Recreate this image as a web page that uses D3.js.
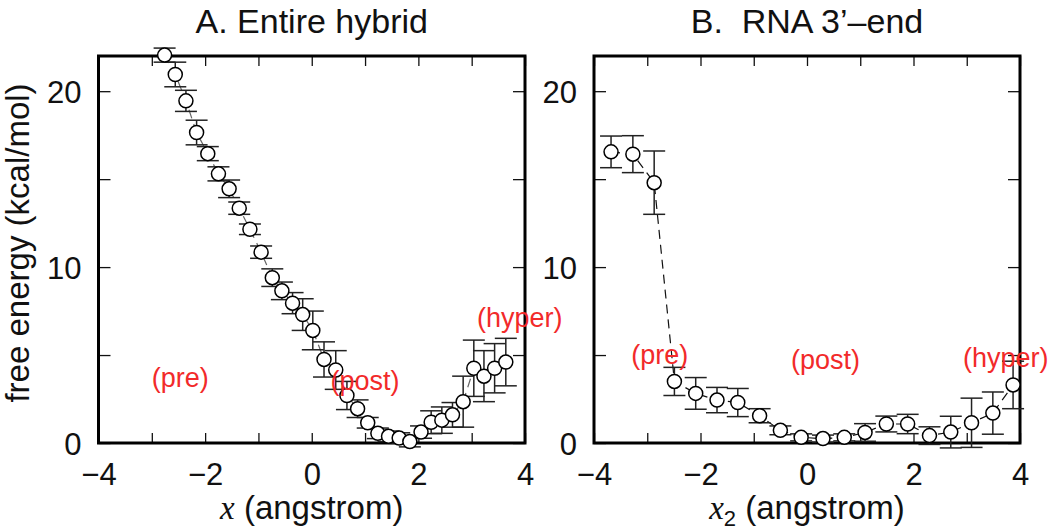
<!DOCTYPE html>
<html>
<head>
<meta charset="utf-8">
<script src="https://cdn.jsdelivr.net/npm/d3@7"></script>
<style>
  html, body { margin: 0; padding: 0; background: #fff; }
  svg { display: block; }
  text { font-family: "Liberation Sans", Arial, Helvetica, sans-serif; }
</style>
</head>
<body>
<svg id="chart" width="1050" height="530"></svg>
<script>
// ---- Data ----
const titleA = "A. Entire hybrid";
const titleB = "B.  RNA 3’–end";
const yLabel = "free energy (kcal/mol)";

// Panel A: entire hybrid
const xA = [-2.76, -2.56, -2.36, -2.16, -1.95, -1.75, -1.55, -1.36, -1.16, -0.95, -0.74,
            -0.56, -0.36, -0.17, 0.02, 0.23, 0.45, 0.66, 0.86, 1.05, 1.24, 1.44, 1.64,
            1.84, 2.05, 2.24, 2.44, 2.64, 2.84, 3.04, 3.23, 3.43, 3.64];
const yA = [22.05, 20.95, 19.45, 17.65, 16.45, 15.3, 14.45, 13.35, 12.15, 10.85, 9.4,
            8.65, 7.95, 7.3, 6.4, 4.75, 4.15, 2.7, 1.95, 1.15, 0.55, 0.38, 0.28,
            0.08, 0.62, 1.18, 1.3, 1.6, 2.35, 4.25, 3.8, 4.25, 4.6];
const eA = [0.4, 0.7, 0.6, 0.7, 0.4, 0.4, 0.5, 0.35, 0.3, 0.35, 0.5,
            0.5, 0.6, 0.9, 1.1, 1.0, 1.1, 0.8, 0.5, 0.3, 0.3, 0.3, 0.3,
            0.3, 0.35, 0.65, 0.75, 0.7, 1.45, 1.6, 1.45, 1.4, 1.35];

// Panel B: RNA 3'-end
const xB = [-3.68, -3.27, -2.87, -2.49, -2.09, -1.69, -1.30, -0.89, -0.50, -0.11,
            0.30, 0.70, 1.09, 1.49, 1.89, 2.30, 2.70, 3.09, 3.49, 3.87];
const yB = [16.55, 16.42, 14.8, 3.5, 2.82, 2.44, 2.3, 1.55, 0.72, 0.32,
            0.25, 0.32, 0.6, 1.08, 1.08, 0.42, 0.62, 1.15, 1.7, 3.3];
const eB = [0.9, 1.05, 1.8, 0.8, 0.9, 0.72, 0.8, 0.4, 0.25, 0.2,
            0.2, 0.2, 0.5, 0.45, 0.55, 0.5, 0.9, 1.4, 1.2, 1.35];

const xTicks = [-4, -3, -2, -1, 0, 1, 2, 3, 4];
const xTickLabels = [-4, -2, 0, 2, 4];
const yTicks = [0, 5, 10, 15, 20];
const yTickLabels = [0, 10, 20];

// Region labels: [text, x value, y value]
const labelsA = [["(pre)", -3.0, 3.2], ["(post)", 0.35, 3.0], ["(hyper)", 3.1, 6.6]];
const labelsB = [["(pre)", -3.3, 4.5], ["(post)", -0.3, 4.2], ["(hyper)", 2.93, 4.3]];

// ---- Drawing ----
const svg = d3.select("#chart");
const y = d3.scaleLinear().domain([0, 22]).range([443, 56]);

function panel(x0, x1, xs, ys, es, title, labels, lineColor, sub) {
  const x = d3.scaleLinear().domain([-4, 4]).range([x0, x1]);
  const g = svg.append("g");
  const data = xs.map((d, i) => ({x: d, y: ys[i], e: es[i]}));
  const fmt = d3.format("d");

  // axes with inward ticks
  const bottom = g.append("g").attr("transform", `translate(0,${y(0)})`)
    .call(d3.axisBottom(x).tickValues(xTicks).tickSizeInner(-10).tickSizeOuter(0).tickPadding(20)
      .tickFormat(d => xTickLabels.includes(d) ? fmt(d) : ""));
  const top = g.append("g").attr("transform", `translate(0,${y(22)})`)
    .call(d3.axisTop(x).tickValues(xTicks).tickSizeInner(-10).tickSizeOuter(0).tickFormat(""));
  const left = g.append("g").attr("transform", `translate(${x0},0)`)
    .call(d3.axisLeft(y).tickValues(yTicks).tickSizeInner(-12).tickSizeOuter(0).tickPadding(17)
      .tickFormat(d => yTickLabels.includes(d) ? fmt(d) : ""));
  const right = g.append("g").attr("transform", `translate(${x1},0)`)
    .call(d3.axisRight(y).tickValues(yTicks).tickSizeInner(-12).tickSizeOuter(0).tickFormat(""));
  [bottom, top, left, right].forEach(a => {
    a.select(".domain").remove();
    a.selectAll(".tick line").attr("stroke", "#111").attr("stroke-width", 1.3);
    a.selectAll("text").attr("font-size", 31).attr("fill", "#111")
      .attr("font-family", "'Liberation Sans', Arial, sans-serif");
  });
  left.selectAll("text").attr("dy", "0.36em");

  // frame
  g.append("rect").attr("x", x0).attr("y", y(22)).attr("width", x1 - x0).attr("height", y(0) - y(22))
    .attr("fill", "none").attr("stroke", "#000").attr("stroke-width", 3);

  // connecting line
  g.append("path").datum(data)
    .attr("d", d3.line().x(d => x(d.x)).y(d => y(d.y)))
    .attr("fill", "none").attr("stroke", lineColor).attr("stroke-width", 1.2)
    .attr("stroke-dasharray", "9,6");

  // error bars
  const eb = g.append("g").attr("stroke", "#222").attr("stroke-width", 1.5);
  data.forEach(d => {
    const cx = x(d.x), yt = y(d.y + d.e), yb = y(d.y - d.e);
    eb.append("line").attr("x1", cx).attr("x2", cx).attr("y1", yt).attr("y2", yb);
    eb.append("line").attr("x1", cx - 11).attr("x2", cx + 11).attr("y1", yt).attr("y2", yt);
    eb.append("line").attr("x1", cx - 11).attr("x2", cx + 11).attr("y1", yb).attr("y2", yb);
  });

  // points
  g.append("g").selectAll("circle").data(data).join("circle")
    .attr("cx", d => x(d.x)).attr("cy", d => y(d.y)).attr("r", 7)
    .attr("fill", "#fff").attr("stroke", "#000").attr("stroke-width", 1.5);

  // title
  g.append("text").attr("x", (x0 + x1) / 2).attr("y", 33).attr("text-anchor", "middle")
    .attr("font-size", 34).attr("fill", "#111").style("white-space", "pre").text(title);

  // x-axis label
  const xl = g.append("text").attr("x", (x0 + x1) / 2).attr("y", 519).attr("text-anchor", "middle")
    .attr("font-size", 33).attr("fill", "#111");
  xl.append("tspan").attr("font-family", "'Liberation Serif', 'Times New Roman', serif")
    .attr("font-style", "italic").text("x");
  if (sub) {
    xl.append("tspan").attr("font-size", 22).attr("dy", 7).text(sub);
    xl.append("tspan").attr("dy", -7).text(" (angstrom)");
  } else {
    xl.append("tspan").text(" (angstrom)");
  }

  // region labels
  g.append("g").selectAll("text").data(labels).join("text")
    .attr("x", d => x(d[1])).attr("y", d => y(d[2]))
    .attr("font-size", 27).attr("fill", "#f22a2a").text(d => d[0]);
}

panel(98.5, 525, xA, yA, eA, titleA, labelsA, "#666", null);
panel(594, 1020, xB, yB, eB, titleB, labelsB, "#111", "2");

// shared y-axis label
svg.append("text").attr("transform", "translate(29,243) rotate(-90)")
  .attr("text-anchor", "middle").attr("font-size", 33).attr("fill", "#111").text(yLabel);
</script>
</body>
</html>
